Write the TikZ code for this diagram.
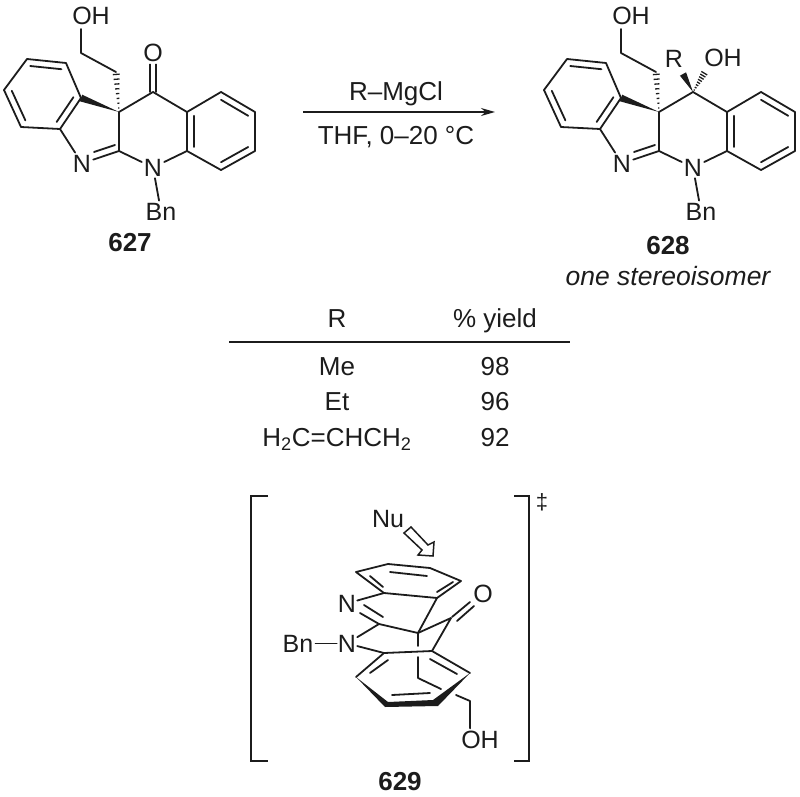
\documentclass[tikz,border=0pt]{standalone}
\usepackage{fontspec}
\setmainfont{Liberation Sans}
\usetikzlibrary{calc,arrows.meta}
\definecolor{inkgrey}{HTML}{1C1C1C}
\tikzset{
  atomlabel/.style={font=\fontsize{25}{27}\selectfont, inner sep=2pt, anchor=base, text=inkgrey},
  tabletext/.style={font=\fontsize{26}{28}\selectfont, inner sep=0pt, anchor=base, text=inkgrey},
  compoundno/.style={font=\fontsize{26}{28}\selectfont\bfseries, inner sep=0pt, anchor=base, text=inkgrey},
  bondline/.style={line width=1.8pt, draw=inkgrey, line join=round, line cap=round},
  bracketline/.style={line width=1.8pt, draw=inkgrey}
}
\newcommand{\innerbond}[3]{\draw[bondline] ($(#1)!.2!(#3)$) to ($(#2)!.2!(#3)$);}
\newcommand{\wedgebond}[2]{\fill[inkgrey] (#1) to ($(#2)!3.5pt!90:(#1)$) to ($(#2)!3.5pt!-90:(#1)$) to cycle;}
\newcommand{\hashbond}[2]{
  \foreach \t/\w in {0.1/0.6,0.22/1,0.34/1.4,0.46/1.8,0.58/2.2,0.7/2.6,0.82/3,0.94/3.4}
    \draw[line width=1.3pt, inkgrey] ($(#1)!\t!(#2)!\w pt!90:(#2)$) to ($(#1)!\t!(#2)!\w pt!-90:(#2)$);
}
\newcommand{\coreskeleton}{
  \coordinate (la) at (4,90);
  \coordinate (lb) at (27,59);
  \coordinate (lc) at (66,63);
  \coordinate (ld) at (81,98);
  \coordinate (le) at (60,129);
  \coordinate (lf) at (21,127);
  \coordinate (lmid) at (43,94);
  \coordinate (quat) at (119,112);
  \coordinate (imc) at (119,151);
  \coordinate (carb) at (153,92);
  \coordinate (ra) at (187,112);
  \coordinate (rb) at (221,92);
  \coordinate (rc) at (255,112);
  \coordinate (rd) at (255,151);
  \coordinate (re) at (221,170);
  \coordinate (rf) at (187,151);
  \coordinate (rmid) at (221,131);
  \coordinate (chb) at (116,72);
  \coordinate (cha) at (81,53);
  \coordinate (chz) at (81,29);
  \node[atomlabel] (nimine) at (82,172) {N};
  \node[atomlabel] (namide) at (153,176) {N};
  \node[atomlabel] (bn) at (161,220) {Bn};
  \node[atomlabel] (ohchain) at (91,25) {OH};
  \draw[bondline] (la) to (lb) to (lc) to (ld);
  \draw[bondline] (ld) to (le) to (lf) to (la);
  \innerbond{lb}{lc}{lmid}
  \innerbond{la}{lf}{lmid}
  \innerbond{ld}{le}{lmid}
  \draw[bondline] (le) to (nimine);
  \draw[bondline] (imc) to (nimine);
  \draw[bondline] (115,145) to (94,152);
  \draw[bondline] (imc) to (quat);
  \draw[bondline] (quat) to (carb) to (ra);
  \draw[bondline] (imc) to (namide) to (rf);
  \draw[bondline] (ra) to (rb) to (rc) to (rd) to (re) to (rf) to cycle;
  \innerbond{rb}{rc}{rmid}
  \innerbond{rd}{re}{rmid}
  \innerbond{rf}{ra}{rmid}
  \draw[bondline] (namide) to (bn);
  \draw[bondline] (chz) to (cha) to (chb);
  \wedgebond{quat}{ld}
  \hashbond{quat}{chb}
}
\begin{document}
\begin{tikzpicture}[x=1pt,y=-1pt]
\useasboundingbox (0,0) rectangle (800,797);
\coreskeleton
\coordinate (cooa) at (150,92);
\coordinate (coob) at (156,92);
\node[atomlabel] (oxo) at (153,62) {O};
\draw[bondline] (cooa) to (cooa |- oxo.south);
\draw[bondline] (coob) to (coob |- oxo.south);
\node[compoundno] (nameA) at (130,251) {627};
\coordinate (arrowstart) at (303,112);
\coordinate (arrowend) at (495,112);
\draw[line width=1.6pt, inkgrey, -{Stealth[length=14pt,width=8pt]}] (arrowstart) to (arrowend);
\node[tabletext] (reagent) at (396,101) {R–MgCl};
\node[tabletext] (solvent) at (396,144) {THF, 0–20 °C};
\begin{scope}[shift={(540,0)}]
\coreskeleton
\end{scope}
\node[atomlabel] (rgroup) at (674,68) {R};
\node[atomlabel] (ohtert) at (723,67) {OH};
\coordinate (carbol) at (693,92);
\coordinate (wedgeend) at (683,74);
\coordinate (hashend) at (705,72);
\wedgebond{carbol}{wedgeend}
\hashbond{carbol}{hashend}
\node[compoundno] (nameB) at (668,254) {628};
\node[tabletext, font=\fontsize{26.5}{28}\selectfont\itshape] (stereo) at (668,285) {one stereoisomer};
\node[tabletext] (headR) at (337,327) {R};
\node[tabletext] (headY) at (495,327) {\% yield};
\coordinate (rulestart) at (229,342);
\coordinate (ruleend) at (570,342);
\draw[line width=1.8pt, inkgrey] (rulestart) to (ruleend);
\node[tabletext] (rowMe) at (337,375) {Me};
\node[tabletext] (valMe) at (495,375) {98};
\node[tabletext] (rowEt) at (337,410) {Et};
\node[tabletext] (valEt) at (495,410) {96};
\node[tabletext] (rowAl) at (337,446) {H\textsubscript{2}C=CHCH\textsubscript{2}};
\node[tabletext] (valAl) at (495,446) {92};
\draw[bracketline] (268,496) -- (251,496) -- (251,761) -- (268,761);
\draw[bracketline] (514,496) -- (529,496) -- (529,761) -- (514,761);
\node[tabletext, font=\fontsize{22}{24}\selectfont] (ddag) at (542,509) {‡};
\node[atomlabel] (nu) at (388,527) {Nu};
\draw[line width=1.5pt, inkgrey, line join=miter] (411,527) -- (428,545) -- (434,542) -- (433,556) -- (418,555) -- (422,550) -- (404,533) -- cycle;
\coordinate (ta) at (356,572);
\coordinate (tb) at (388,564);
\coordinate (tc) at (430,568);
\coordinate (td) at (461,581);
\coordinate (te) at (437,598);
\coordinate (tf) at (384,593);
\draw[bondline] (ta) to (tb) to (tc) to (td) to (te) to (tf) to cycle;
\draw[bondline] (370,576) to (383,587);
\draw[bondline] (390,572) to (427,576);
\draw[bondline] (437,592) to (453,582);
\node[atomlabel, inner sep=1pt] (ntop) at (347,612) {N};
\node[atomlabel, inner sep=1pt] (nlow) at (347,652) {N};
\node[atomlabel] (bnlow) at (298,652) {Bn};
\node[atomlabel, inner sep=1pt] (oxolow) at (483,602) {O};
\coordinate (cneq) at (379,624);
\coordinate (spiro) at (418,633);
\coordinate (coc) at (451,618);
\coordinate (ba) at (384,653);
\coordinate (bb) at (432,651);
\coordinate (bc) at (470,673);
\coordinate (bd) at (356,677);
\draw[bondline] (tf) to (ntop);
\draw[bondline] (cneq) to (360,613);
\draw[bondline] (383,617) to (364,605);
\draw[bondline] (cneq) to (nlow);
\draw[bondline] (nlow) to (ba);
\draw[bondline] (bnlow) to (nlow);
\draw[bondline] (cneq) to (spiro) to (te);
\draw[bondline] (spiro) to (coc) to (bb);
\draw[bondline] (452,617) to (470,602);
\draw[bondline] (457,621) to (474,606);
\draw[bondline] (ba) to (bb) to (bc);
\draw[bondline] (ba) to (bd);
\draw[bondline] (388,660) to (370,673);
\draw[bondline] (430,659) to (457,674);
\draw[bondline] (392,695) to (430,693);
\fill[inkgrey] (bd) to (388,702) to (433,700) to (bc) to (438,706) to (385,707) to cycle;
\draw[bondline] (spiro) to (418,646);
\node[atomlabel] (ohlow) at (480,748) {OH};
\coordinate (chc) at (418,657);
\coordinate (chd) at (418,678);
\coordinate (che) at (441,689);
\coordinate (chf) at (456,695);
\coordinate (chg) at (470,701);
\draw[bondline] (chc) to (chd) to (che);
\draw[bondline] (chf) to (chg) to (chg |- ohlow.north);
\node[compoundno] (nameC) at (400,790) {629};
\end{tikzpicture}
\end{document}
